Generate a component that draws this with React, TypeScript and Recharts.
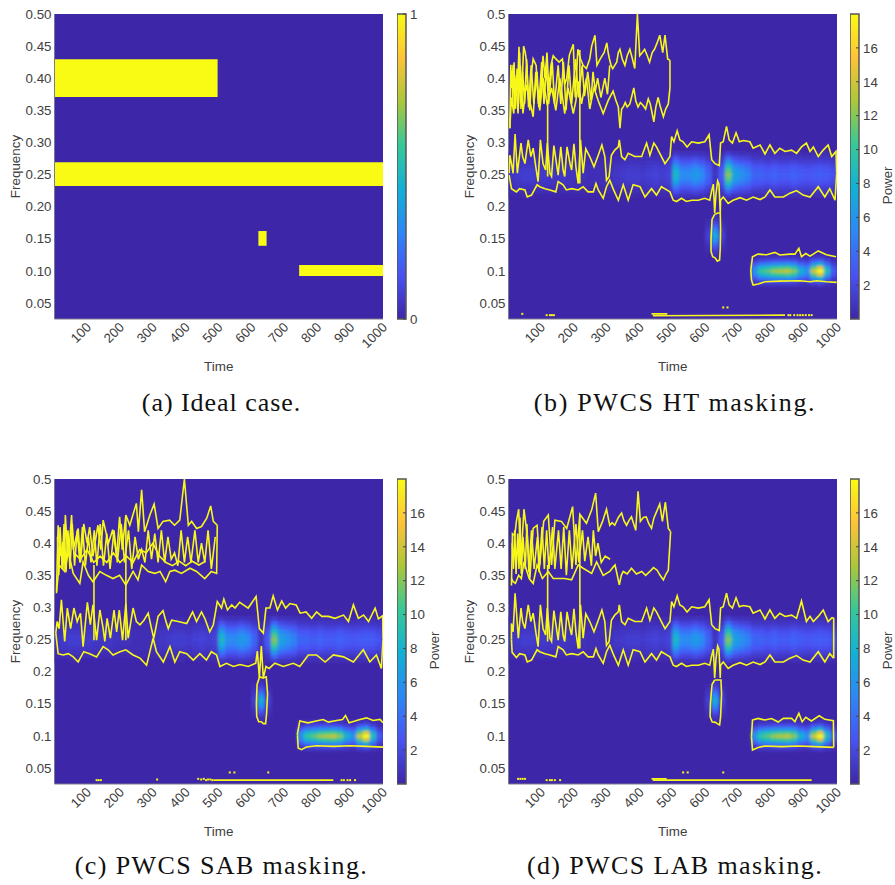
import { ScatterChart, Scatter, XAxis, YAxis, ReferenceArea, BarChart, Bar } from 'recharts';

type Pair = number[];

const timeTicks = [100, 200, 300, 400, 500, 600, 700, 800, 900, 1000];
const freqTicks = [0.05, 0.1, 0.15, 0.2, 0.25, 0.3, 0.35, 0.4, 0.45, 0.5];
const powerTicks = [2, 4, 6, 8, 10, 12, 14, 16];
const idealTicks = [0, 1];

// ideal case: t1, t2, f1, f2
const idealBlocks = [
  [1, 497, 0.3707, 0.4294],
  [1, 1000, 0.232, 0.269],
  [621, 646, 0.139, 0.162],
  [745, 1000, 0.092, 0.109],
];

// power around f = 0.25, one row per frequency, columns t = 10, 30 ... 990
const bandTimes = [10, 30, 50, 70, 90, 110, 130, 150, 170, 190, 210, 230, 250, 270, 290, 310, 330, 350, 370, 390, 410, 430, 450, 470, 490, 510, 530, 550, 570, 590, 610, 630, 650, 670, 690, 710, 730, 750, 770, 790, 810, 830, 850, 870, 890, 910, 930, 950, 970, 990];
const band250 = [0.9, 1.2, 1.4, 1.4, 1.2, 1.2, 1, 1, 1, 0.8, 0.7, 0.7, 0.5, 0.5, 0.5, 0.8, 1, 1.2, 1.4, 1.4, 1.2, 1.5, 1.7, 1.4, 1.7, 8.5, 5.5, 5.5, 6.5, 5.5, 3.5, 0.8, 3, 12, 7, 6, 5, 3.5, 3.5, 3, 3.5, 3, 3, 3.5, 3, 2.8, 3, 3.2, 3, 2.5];
const band245 = [0.8, 1.1, 1.3, 1.3, 1.1, 1.1, 0.9, 0.9, 0.9, 0.7, 0.6, 0.6, 0.5, 0.5, 0.5, 0.7, 0.9, 1.1, 1.3, 1.3, 1.1, 1.4, 1.6, 1.3, 1.6, 7.8, 5.1, 5.1, 6, 5.1, 3.2, 0.7, 2.8, 11, 6.4, 5.5, 4.6, 3.2, 3.2, 2.8, 3.2, 2.8, 2.8, 3.2, 2.8, 2.6, 2.8, 2.9, 2.8, 2.3];
const band240 = [0.7, 0.9, 1, 1, 0.9, 0.9, 0.8, 0.8, 0.8, 0.6, 0.5, 0.5, 0.4, 0.4, 0.4, 0.6, 0.8, 0.9, 1, 1, 0.9, 1.1, 1.3, 1, 1.3, 6.4, 4.1, 4.1, 4.9, 4.1, 2.6, 0.6, 2.3, 9, 5.3, 4.5, 3.8, 2.6, 2.6, 2.3, 2.6, 2.3, 2.3, 2.6, 2.3, 2.1, 2.3, 2.4, 2.3, 1.9];
const band235 = [0.5, 0.6, 0.7, 0.7, 0.6, 0.6, 0.5, 0.5, 0.5, 0.4, 0.4, 0.4, 0.3, 0.3, 0.3, 0.4, 0.5, 0.6, 0.7, 0.7, 0.6, 0.8, 0.9, 0.7, 0.9, 4.4, 2.9, 2.9, 3.4, 2.9, 1.8, 0.4, 1.6, 6.2, 3.6, 3.1, 2.6, 1.8, 1.8, 1.6, 1.8, 1.6, 1.6, 1.8, 1.6, 1.5, 1.6, 1.7, 1.6, 1.3];
const band230 = [0.3, 0.4, 0.4, 0.4, 0.4, 0.4, 0.3, 0.3, 0.3, 0.2, 0.2, 0.2, 0.2, 0.2, 0.2, 0.2, 0.3, 0.4, 0.4, 0.4, 0.4, 0.5, 0.5, 0.4, 0.5, 2.6, 1.7, 1.7, 2, 1.7, 1, 0.2, 0.9, 3.6, 2.1, 1.8, 1.5, 1, 1, 0.9, 1, 0.9, 0.9, 1, 0.9, 0.8, 0.9, 1, 0.9, 0.8];
const band225 = [0.1, 0.1, 0.2, 0.2, 0.1, 0.1, 0.1, 0.1, 0.1, 0.1, 0.1, 0.1, 0.1, 0.1, 0.1, 0.1, 0.1, 0.1, 0.2, 0.2, 0.1, 0.2, 0.2, 0.2, 0.2, 1, 0.7, 0.7, 0.8, 0.7, 0.4, 0.1, 0.4, 1.4, 0.8, 0.7, 0.6, 0.4, 0.4, 0.4, 0.4, 0.4, 0.4, 0.4, 0.4, 0.3, 0.4, 0.4, 0.4, 0.3];
const bandFreqs = [0.2175, 0.224, 0.2305, 0.237, 0.2435, 0.25, 0.2565, 0.263, 0.2695, 0.276, 0.2825];
const bandRows = [band225, band230, band235, band240, band245, band250, band245, band240, band235, band230, band225];

// power around f = 0.1
const lowTimes = [750, 770, 790, 810, 830, 850, 870, 890, 910, 930, 950, 970, 990];
const low100 = [6, 10, 11, 12.5, 13, 13.5, 12, 8, 6, 14, 18, 9, 3];
const low095 = [4.8, 8, 8.8, 10, 10.4, 10.8, 9.6, 6.4, 4.8, 11, 14.4, 7.2, 2.4];
const low090 = [2.7, 4.5, 5, 5.6, 5.9, 6.1, 5.4, 3.6, 2.7, 6.2, 8.1, 4, 1.4];
const low085 = [1.1, 1.8, 2, 2.3, 2.3, 2.4, 2.2, 1.4, 1.1, 2.5, 3.2, 1.6, 0.5];
const low080 = [0.3, 0.5, 0.6, 0.6, 0.7, 0.7, 0.6, 0.4, 0.3, 0.7, 0.9, 0.5, 0.2];
const lowFreqs = [0.078, 0.0835, 0.089, 0.0945, 0.1, 0.1055, 0.111, 0.1165, 0.122];
const lowRows = [low080, low085, low090, low095, low100, low095, low090, low085, low080];

// short pulse near f = 0.15
const pulseTimes = [610, 630, 650];
const pulseFreqs = [0.125, 0.13, 0.135, 0.14, 0.145, 0.15, 0.155, 0.16, 0.165, 0.17, 0.175, 0.18, 0.185];
const pulseRows = [[0.1, 0.5, 0.1], [0.2, 1, 0.2], [0.4, 2, 0.4], [0.7, 3.5, 0.7], [1, 5, 1], [1.3, 6.5, 1.3], [1.5, 7.5, 1.5], [1.3, 6.5, 1.3], [1, 5, 1], [0.7, 3.5, 0.7], [0.4, 2, 0.4], [0.2, 1, 0.2], [0.1, 0.5, 0.1]];

// HT contours [t, f]
const htBandUpper: Pair[] = [[3,.252],[5,.28],[10,.267],[15,.252],[21,.313],[28,.252],[39,.299],[44,.278],[51,.267],[61,.304],[69,.278],[76,.291],[84,.262],[91,.239],[98,.304],[106,.267],[114,.257],[119,.299],[127,.252],[132,.247],[139,.295],[147,.267],[152,.249],[160,.293],[167,.257],[172,.247],[179,.293],[188,.267],[193,.257],[200,.298],[206,.262],[213,.236],[220,.304],[228,.252],[236,.29],[248,.278],[261,.262],[274,.28],[285,.296],[294,.278],[299,.241],[307,.247],[314,.28],[324,.288],[335,.293],[338,.304],[345,.278],[355,.273],[365,.283],[385,.278],[406,.278],[421,.299],[431,.28],[443,.299],[451,.293],[461,.283],[477,.267],[492,.278],[497,.309],[504,.301],[514,.318],[522,.304],[532,.301],[544,.293],[558,.301],[578,.299],[598,.301],[611,.312],[619,.273],[629,.267],[642,.264],[646,.299],[654,.301],[664,.325],[672,.304],[682,.299],[693,.315],[703,.301],[715,.303],[735,.301],[745,.291],[766,.296],[781,.282],[796,.296],[811,.283],[826,.291],[842,.286],[862,.288],[877,.283],[892,.293],[907,.299],[918,.286],[928,.293],[943,.278],[958,.288],[973,.296],[984,.278],[997,.286],[999,.252]];
const htBandLower: Pair[] = [[3,.249],[10,.228],[25,.223],[35,.228],[51,.226],[58,.215],[71,.218],[88,.234],[96,.231],[112,.228],[127,.226],[145,.223],[152,.239],[167,.234],[177,.226],[193,.228],[213,.226],[228,.231],[243,.223],[259,.223],[267,.236],[274,.226],[289,.213],[299,.231],[309,.241],[319,.228],[335,.21],[350,.234],[365,.21],[380,.234],[401,.231],[416,.215],[436,.228],[451,.218],[466,.231],[482,.226],[492,.223],[502,.21],[512,.208],[527,.213],[542,.208],[558,.21],[578,.21],[598,.213],[613,.21],[619,.225],[624,.235],[628,.19],[632,.22],[637,.24],[641,.235],[645,.19],[646,.21],[654,.215],[669,.205],[684,.21],[705,.214],[725,.21],[745,.215],[766,.211],[781,.215],[796,.226],[811,.215],[837,.215],[857,.221],[877,.225],[897,.218],[918,.215],[943,.231],[963,.215],[978,.228],[994,.21],[999,.252]];
const htTopUpper: Pair[] = [[5,.322],[8,.421],[11,.385],[15,.421],[20,.37],[25,.405],[29,.39],[33,.449],[37,.38],[41,.37],[47,.45],[52,.44],[57,.42],[61,.37],[66,.35],[71,.41],[76,.43],[85,.42],[92,.36],[98,.37],[106,.435],[112,.4],[118,.44],[124,.38],[130,.42],[137,.435],[145,.43],[155,.425],[165,.43],[172,.39],[178,.4],[186,.436],[198,.453],[204,.37],[212,.445],[220,.43],[228,.42],[238,.415],[248,.43],[254,.45],[264,.467],[270,.42],[280,.43],[292,.44],[300,.455],[304,.44],[308,.43],[313,.42],[318,.415],[324,.42],[330,.425],[335,.44],[340,.445],[347,.43],[355,.42],[362,.435],[370,.445],[378,.43],[385,.415],[393,.5],[400,.435],[408,.44],[415,.445],[423,.435],[430,.425],[438,.44],[445,.445],[453,.455],[461,.467],[470,.44],[477,.467],[485,.43],[492,.428]];
const htTopLower: Pair[] = [[5,.322],[10,.37],[17,.345],[23,.4],[30,.345],[37,.42],[45,.345],[55,.39],[76,.34],[84,.41],[96,.35],[106,.4],[119,.358],[132,.385],[145,.35],[157,.4],[172,.345],[182,.385],[198,.345],[206,.365],[213,.395],[223,.36],[238,.4],[248,.352],[261,.385],[274,.365],[289,.345],[304,.365],[319,.38],[328,.365],[335,.355],[340,.322],[345,.352],[350,.355],[356,.362],[362,.355],[370,.36],[376,.372],[382,.385],[388,.365],[395,.355],[402,.362],[410,.358],[418,.352],[426,.368],[432,.36],[438,.345],[443,.332],[449,.355],[456,.37],[463,.355],[472,.34],[479,.352],[487,.36],[492,.385],[492,.428]];
const htTopInner: Pair[] = [[12,.41],[14,.36],[18,.425],[22,.352],[27,.415],[31,.36],[35,.44],[39,.352],[44,.41],[50,.36],[56,.43],[62,.355],[70,.42],[78,.36],[88,.41],[93,.355],[102,.425],[109,.36],[116,.42],[123,.36],[134,.425],[141,.36],[152,.42],[160,.36],[168,.425],[176,.35],[185,.42],[193,.36],[205,.43],[214,.37],[225,.42],[232,.372],[242,.41],[252,.365],[258,.41],[265,.38],[272,.4],[282,.37],[294,.4],[302,.375],[309,.42]];
const htSpikeA: Pair[] = [[120,.366],[120,.247]];
const htSpikeB: Pair[] = [[218,.444],[218,.236]];
const htPulse: Pair[] = [[628,.188],[620,.18],[617,.15],[617,.13],[622,.122],[630,.12],[636,.115],[643,.117],[645,.135],[646,.165],[645,.19],[638,.19],[628,.188]];
const htLowUpper: Pair[] = [[740,.0857],[738,.1013],[743,.122],[760,.126],[786,.125],[811,.1287],[826,.1246],[857,.126],[872,.126],[884,.135],[892,.122],[905,.127],[918,.123],[943,.131],[968,.125],[997,.122]];
const htLowLower: Pair[] = [[740,.0857],[745,.0779],[760,.0795],[781,.083],[826,.084],[887,.0846],[918,.083],[938,.0846],[968,.083],[999,.082]];
const htFloorA: Pair[] = [[436,.033],[484,.033]];
const htFloorB: Pair[] = [[440,.03],[842,.031]];
const htDots: Pair[] = [[43,.033],[117,.031],[127,.031],[133,.031],[139,.031],[654,.043],[667,.043],[852,.031],[858,.031],[870,.031],[880,.031],[888,.031],[896,.031],[905,.031],[915,.031],[923,.031]];

// SAB contours [t, f]
const sabBandUpper: Pair[] = [[5,.26],[9,.278],[15,.267],[22,.312],[32,.247],[40,.299],[50,.267],[60,.299],[70,.278],[80,.291],[88,.239],[101,.308],[110,.273],[118,.304],[129,.249],[139,.296],[149,.267],[154,.247],[161,.283],[171,.252],[182,.296],[190,.262],[198,.296],[208,.249],[218,.306],[225,.252],[240,.299],[250,.278],[261,.273],[273,.28],[286,.291],[296,.267],[303,.252],[316,.286],[331,.295],[340,.278],[347,.267],[357,.28],[377,.278],[403,.275],[421,.293],[433,.278],[448,.293],[458,.283],[473,.262],[484,.273],[496,.309],[509,.299],[516,.313],[527,.296],[540,.304],[550,.299],[564,.308],[590,.299],[614,.317],[624,.267],[636,.26],[644,.299],[656,.299],[666,.318],[679,.296],[692,.31],[704,.299],[717,.306],[736,.304],[748,.291],[766,.293],[783,.283],[798,.293],[814,.286],[834,.286],[854,.283],[880,.288],[895,.278],[910,.304],[925,.283],[941,.288],[956,.278],[976,.299],[986,.282],[999,.287],[1000,.25]];
const sabBandLower: Pair[] = [[5,.26],[12,.228],[27,.226],[43,.228],[58,.223],[73,.215],[90,.231],[108,.228],[129,.223],[149,.239],[164,.234],[179,.226],[200,.231],[218,.234],[240,.226],[261,.221],[281,.21],[301,.252],[311,.231],[332,.215],[352,.239],[367,.215],[382,.231],[403,.228],[423,.218],[443,.228],[463,.218],[478,.231],[494,.226],[504,.208],[524,.213],[545,.208],[565,.211],[590,.208],[613,.213],[618,.232],[624,.19],[630,.24],[636,.19],[644,.208],[654,.205],[671,.213],[697,.208],[727,.213],[747,.208],[773,.226],[798,.226],[824,.215],[849,.226],[880,.223],[910,.215],[940,.234],[960,.215],[980,.226],[995,.205],[1000,.25]];
const sabTopUpper: Pair[] = [[7,.325],[12,.428],[20,.38],[27,.402],[30,.36],[34,.444],[41,.38],[45,.387],[53,.444],[58,.39],[73,.423],[80,.37],[90,.43],[100,.4],[108,.425],[118,.38],[133,.428],[142,.39],[149,.436],[165,.4],[178,.421],[190,.38],[199,.441],[207,.39],[218,.444],[230,.428],[250,.462],[256,.418],[266,.483],[275,.418],[291,.444],[304,.461],[316,.423],[331,.434],[351,.436],[366,.428],[382,.436],[396,.5],[408,.428],[418,.434],[433,.423],[448,.426],[464,.439],[476,.458],[484,.434],[496,.428]];
const sabTopLower: Pair[] = [[7,.322],[15,.366],[32,.356],[43,.387],[58,.353],[78,.3375],[88,.371],[104,.35],[118,.34],[139,.356],[159,.35],[179,.345],[199,.35],[218,.335],[240,.356],[255,.343],[266,.366],[286,.356],[306,.353],[322,.356],[339,.34],[352,.356],[367,.358],[387,.353],[413,.361],[433,.356],[458,.345],[478,.356],[494,.353],[496,.428]];
const sabTopInner: Pair[] = [[10,.41],[14,.35],[18,.425],[24,.36],[30,.43],[36,.355],[42,.42],[48,.36],[55,.43],[62,.365],[70,.42],[78,.37],[86,.425],[95,.365],[104,.41],[112,.37],[122,.42],[130,.365],[140,.43],[150,.365],[160,.415],[170,.36],[182,.42],[192,.37],[204,.43],[214,.37],[226,.42],[236,.36],[246,.41],[256,.375],[266,.39],[276,.37],[286,.42],[296,.375],[306,.415],[316,.37],[326,.42],[336,.37],[346,.41],[356,.375],[366,.385],[376,.365],[386,.42],[396,.37],[406,.41],[416,.37],[428,.42],[438,.37],[448,.4],[458,.37],[468,.42],[478,.36],[490,.41]];
const sabTopCore: Pair[] = [[60,.385],[80,.375],[100,.39],[120,.37],[140,.38],[160,.37],[180,.385],[200,.37],[220,.38],[240,.37],[260,.39],[280,.385],[300,.4],[320,.38],[340,.37],[360,.365],[380,.372],[400,.365],[420,.372],[440,.366],[460,.372]];
const sabSpikeA: Pair[] = [[121,.366],[121,.249]];
const sabSpikeB: Pair[] = [[218,.444],[218,.249]];
const sabPulse: Pair[] = [[625,.192],[617,.18],[615,.15],[616,.13],[622,.122],[630,.122],[636,.119],[643,.119],[646,.135],[649,.165],[645,.192],[635,.19],[625,.192]];
const sabLowUpper: Pair[] = [[740,.1],[740,.104],[747,.123],[772,.1203],[793,.1228],[818,.1255],[834,.1214],[859,.124],[877,.1255],[886,.1317],[897,.1203],[915,.123],[930,.1255],[950,.128],[970,.124],[991,.1255],[1000,.1203]];
const sabLowLower: Pair[] = [[740,.1],[742,.081],[752,.0785],[767,.0825],[798,.0846],[849,.0836],[899,.0846],[950,.0836],[1000,.0825]];
const sabFloorA: Pair[] = [[484,.031],[849,.031]];
const sabDots: Pair[] = [[129,.031],[135,.031],[142,.031],[313,.032],[438,.033],[447,.032],[455,.033],[462,.031],[468,.032],[475,.032],[481,.031],[534,.043],[548,.043],[651,.043],[874,.031],[881,.031],[892,.031],[900,.031],[915,.031]];

// LAB contours [t, f]
const labBandUpper: Pair[] = [[10,.25],[10,.275],[15,.262],[21,.322],[31,.252],[39,.299],[44,.278],[51,.267],[61,.304],[69,.278],[76,.291],[84,.262],[91,.239],[98,.304],[106,.267],[114,.257],[119,.299],[127,.252],[132,.247],[139,.295],[147,.267],[152,.249],[160,.293],[167,.257],[172,.247],[179,.293],[188,.267],[193,.257],[200,.298],[206,.262],[213,.236],[220,.304],[228,.252],[236,.29],[248,.278],[261,.262],[274,.28],[285,.296],[294,.278],[299,.241],[307,.247],[314,.28],[324,.288],[335,.293],[338,.304],[345,.278],[355,.273],[365,.283],[385,.278],[406,.278],[421,.299],[431,.28],[443,.299],[451,.293],[461,.283],[477,.267],[492,.278],[497,.309],[504,.301],[514,.318],[522,.304],[532,.301],[544,.293],[558,.301],[578,.299],[598,.301],[611,.312],[619,.273],[629,.267],[642,.264],[646,.299],[654,.301],[664,.322],[672,.304],[682,.299],[693,.315],[703,.301],[715,.303],[735,.301],[745,.291],[766,.296],[781,.282],[796,.296],[811,.283],[826,.291],[842,.286],[862,.288],[877,.283],[892,.31],[907,.278],[918,.286],[928,.278],[943,.286],[958,.296],[973,.278],[985,.284],[990,.283],[990,.221]];
const labBandLower: Pair[] = [[10,.25],[12,.23],[25,.222],[35,.228],[51,.226],[58,.215],[71,.218],[88,.234],[96,.231],[112,.228],[127,.226],[145,.223],[152,.239],[167,.234],[177,.226],[193,.228],[213,.226],[228,.231],[243,.223],[259,.223],[267,.236],[274,.226],[289,.213],[299,.231],[309,.241],[319,.228],[335,.21],[350,.234],[365,.21],[380,.234],[401,.231],[416,.215],[436,.228],[451,.218],[466,.231],[482,.226],[492,.223],[502,.21],[512,.208],[527,.213],[542,.208],[558,.21],[578,.21],[598,.213],[613,.21],[619,.225],[624,.235],[628,.19],[632,.22],[637,.24],[641,.235],[645,.19],[646,.21],[654,.215],[669,.205],[684,.21],[705,.214],[725,.21],[745,.215],[766,.211],[781,.215],[796,.226],[811,.215],[837,.215],[857,.221],[877,.225],[897,.218],[918,.215],[943,.231],[963,.215],[978,.228],[990,.221]];
const labTopUpper: Pair[] = [[10,.334],[13,.415],[20,.412],[25,.434],[32,.453],[38,.366],[48,.453],[58,.412],[66,.345],[76,.423],[88,.428],[96,.366],[108,.434],[122,.444],[132,.366],[142,.436],[162,.434],[178,.423],[196,.457],[206,.366],[218,.445],[238,.431],[254,.452],[266,.478],[274,.418],[287,.434],[299,.453],[304,.44],[309,.428],[316,.432],[324,.428],[335,.44],[345,.447],[352,.435],[360,.428],[368,.436],[375,.441],[388,.42],[395,.481],[402,.434],[411,.44],[420,.441],[428,.43],[436,.423],[443,.439],[452,.45],[461,.461],[469,.434],[478,.464],[487,.423],[494,.418]];
const labTopLower: Pair[] = [[10,.345],[15,.34],[22,.3375],[32,.35],[40,.345],[48,.371],[64,.345],[76,.3375],[88,.366],[104,.345],[122,.356],[137,.345],[157,.345],[172,.345],[193,.343],[213,.366],[228,.361],[254,.353],[269,.371],[289,.35],[309,.356],[318,.362],[325,.366],[331,.352],[338,.335],[344,.35],[350,.356],[362,.352],[375,.361],[390,.352],[406,.356],[418,.35],[431,.356],[442,.362],[453,.358],[462,.35],[472,.343],[480,.352],[487,.358],[494,.418]];
const labTopInner: Pair[] = [[12,.4],[16,.36],[20,.42],[24,.352],[29,.415],[33,.36],[36,.44],[40,.352],[45,.41],[52,.36],[57,.43],[63,.355],[71,.42],[79,.36],[89,.41],[94,.355],[103,.425],[110,.36],[117,.42],[124,.36],[135,.425],[142,.36],[153,.42],[161,.36],[169,.425],[177,.35],[186,.42],[194,.36],[206,.43],[215,.37],[226,.42],[233,.372],[243,.41],[253,.365],[259,.42],[266,.38],[273,.4],[283,.37],[295,.38],[310,.375]];
const labSpikeA: Pair[] = [[120,.366],[120,.247]];
const labSpikeB: Pair[] = [[218,.444],[218,.236]];
const labPulse: Pair[] = [[628,.187],[620,.18],[615,.15],[614,.13],[620,.122],[630,.121],[636,.119],[643,.117],[646,.13],[649,.165],[647,.187],[638,.187],[628,.187]];
const labLowUpper: Pair[] = [[740,.0986],[743,.1246],[760,.1272],[781,.1246],[801,.127],[821,.1215],[837,.1272],[862,.1272],[872,.122],[884,.135],[894,.122],[905,.1288],[922,.1231],[946,.1313],[963,.1257],[989,.1236],[990,.082]];
const labLowLower: Pair[] = [[740,.0986],[743,.078],[760,.082],[781,.0842],[832,.0832],[882,.0842],[933,.0832],[990,.082]];
const labFloorA: Pair[] = [[436,.033],[482,.033]];
const labFloorB: Pair[] = [[440,.031],[923,.031]];
const labDots: Pair[] = [[30,.033],[37,.033],[44,.033],[51,.033],[117,.031],[127,.031],[133,.031],[142,.031],[158,.031],[532,.043],[546,.043],[654,.043]];

const parulaStops = ['#3e26a8', '#4852f4', '#2d87f7', '#11b1d6', '#37c897', '#abc739', '#fec338', '#f9fb15'];
const YELLOW = '#f7f71a';
const BG = '#3e26a8';
const PLOT_W = 328.5;
const PLOT_H = 305;
const TEXT = '#404040';
const FONT = '"Liberation Sans", Arial, sans-serif';

function hexRgb(h: string) {
  return [1, 3, 5].map((i) => parseInt(h.slice(i, i + 2), 16));
}

function parula(x: number) {
  const v = Math.max(0, Math.min(0.9999, x)) * (parulaStops.length - 1);
  const i = Math.floor(v);
  const a = hexRgb(parulaStops[i]);
  const b = hexRgb(parulaStops[i + 1]);
  const c = a.map((n, k) => Math.round(n + (b[k] - n) * (v - i)));
  return `rgb(${c[0]},${c[1]},${c[2]})`;
}

function cells(times: number[], freqs: number[], rows: number[][], dt: number, df: number) {
  return freqs.flatMap((f, r) => times.map((t, c) => ({ t, f, p: rows[r][c], dt, df })));
}

const heatCells = [
  ...cells(bandTimes, bandFreqs, bandRows, 20, 0.0065),
  ...cells(lowTimes, lowFreqs, lowRows, 20, 0.0055),
  ...cells(pulseTimes, pulseFreqs, pulseRows, 20, 0.005),
];

function toPoints(pairs: Pair[]) {
  return pairs.map(([t, f]) => ({ t, f }));
}

function HeatCell(props: any) {
  const { cx, cy, payload } = props;
  const w = (payload.dt * PLOT_W) / 999 + 0.6;
  const h = (payload.df * PLOT_H) / 0.475 + 0.6;
  return <rect x={cx - w / 2} y={cy - h / 2} width={w} height={h} fill={parula(payload.p / 18)} />;
}

function NoPoint() {
  return null;
}

function Dot(props: any) {
  return <rect x={props.cx - 1} y={props.cy - 1} width={2} height={2} fill={YELLOW} />;
}

function TimeTick(props: any) {
  const { x, y, payload } = props;
  return (
    <text x={x + 5} y={y + 9} textAnchor="end" fontSize={13.3} fontFamily={FONT} fill={TEXT} transform={`rotate(-45 ${x + 5} ${y + 9})`}>
      {payload.value}
    </text>
  );
}

function BarTick(props: any) {
  const { x, y, payload } = props;
  return (
    <g>
      <line x1={x - 3} x2={x} y1={y} y2={y} stroke="#444" strokeWidth={1} />
      <text x={x + 4} y={y} dy="0.36em" fontSize={13.3} fontFamily={FONT} fill={TEXT}>
        {payload.value}
      </text>
    </g>
  );
}

function ColorBar({ left, top, ticks, max, label }: { left: number; top: number; ticks: number[]; max: number; label?: string }) {
  const id = `grad-${left}-${top}`;
  return (
    <div style={{ position: 'absolute', left, top }}>
      <BarChart width={45} height={395} data={[{ name: 'c', v: max }]} margin={{ top: 14, right: 0, bottom: 76, left: 0 }} barCategoryGap={0}>
        <defs>
          <linearGradient id={id} x1="0" y1="1" x2="0" y2="0">
            {parulaStops.map((c, i) => (
              <stop key={i} offset={i / (parulaStops.length - 1)} stopColor={c} />
            ))}
          </linearGradient>
        </defs>
        <XAxis dataKey="name" hide />
        <YAxis
          orientation="right"
          width={36}
          domain={[0, max]}
          ticks={ticks}
          interval={0}
          axisLine={false}
          tickLine={false}
          tickSize={0}
          tickMargin={0}
          tick={BarTick}
          label={label ? { value: label, angle: -90, position: 'insideRight', dx: -3, fontSize: 13.3, fontFamily: FONT, fill: TEXT } : undefined}
        />
        <Bar dataKey="v" fill={`url(#${id})`} stroke="#555" strokeWidth={1.5} isAnimationActive={false} />
      </BarChart>
    </div>
  );
}

function Panel({ left, top, fixed, blocks, lines, dots }: { left: number; top: number; fixed?: boolean; blocks?: number[][]; lines?: Pair[][]; dots?: Pair[] }) {
  const filterId = `blur-${left}-${top}`;
  return (
    <div style={{ position: 'absolute', left, top }}>
      <ScatterChart width={440} height={395} margin={{ top: 14, right: 57, bottom: 16, left: 0 }}>
        <defs>
          <filter id={filterId} filterUnits="userSpaceOnUse" x={54.5} y={14} width={PLOT_W} height={PLOT_H}>
            <feGaussianBlur stdDeviation="1.7 1.3" />
          </filter>
        </defs>
        <XAxis
          type="number"
          dataKey="t"
          domain={[1, 1000]}
          ticks={timeTicks}
          interval={0}
          height={60}
          axisLine={{ stroke: '#7a7a8a' }}
          tickLine={false}
          tickMargin={0}
          tickSize={0}
          tick={TimeTick}
          allowDataOverflow
          label={{ value: 'Time', position: 'insideBottom', offset: 8, fontSize: 13.4, fontFamily: FONT, fill: TEXT }}
        />
        <YAxis
          type="number"
          dataKey="f"
          domain={[0.025, 0.5]}
          ticks={freqTicks}
          interval={0}
          width={54.5}
          axisLine={{ stroke: '#7a7a8a' }}
          tickLine={false}
          tickSize={0}
          tickMargin={3}
          allowDataOverflow
          tickFormatter={(v: number) => (fixed ? v.toFixed(2) : String(v))}
          tick={{ fontSize: 13.3, fontFamily: FONT, fill: TEXT }}
          label={{ value: 'Frequency', angle: -90, position: 'insideLeft', offset: 15, fontSize: 13.4, fontFamily: FONT, fill: TEXT, style: { textAnchor: 'middle' } }}
        />
        <ReferenceArea x1={1} x2={1000} y1={0.025} y2={0.5} fill={BG} fillOpacity={1} stroke="none" />
        {(blocks || []).map((b, i) => (
          <ReferenceArea key={i} x1={b[0]} x2={b[1]} y1={b[2]} y2={b[3]} fill="#f9fb15" fillOpacity={1} stroke="none" />
        ))}
        {lines && (
          <Scatter className={`heat-${left}-${top}`} data={heatCells} shape={HeatCell} isAnimationActive={false} />
        )}
        {(lines || []).map((l, i) => (
          <Scatter key={i} data={toPoints(l)} line={{ stroke: YELLOW, strokeWidth: 1.6 }} shape={NoPoint} isAnimationActive={false} />
        ))}
        {dots && <Scatter data={toPoints(dots)} shape={Dot} isAnimationActive={false} />}
      </ScatterChart>
    </div>
  );
}

const captionStyle = (center: number, baseline: number, spacing: number) =>
  ({
    position: 'absolute',
    left: center - 220,
    width: 440,
    top: baseline - 21,
    textAlign: 'center',
    fontFamily: '"Liberation Serif", serif',
    fontSize: 26,
    lineHeight: '27px',
    letterSpacing: spacing,
    color: '#111',
    whiteSpace: 'nowrap',
  }) as const;

const htLines = [htBandUpper, htBandLower, htTopUpper, htTopLower, htTopInner, htSpikeA, htSpikeB, htPulse, htLowUpper, htLowLower, htFloorA, htFloorB];
const sabLines = [sabBandUpper, sabBandLower, sabTopUpper, sabTopLower, sabTopInner, sabTopCore, sabSpikeA, sabSpikeB, sabPulse, sabLowUpper, sabLowLower, sabFloorA];
const labLines = [labBandUpper, labBandLower, labTopUpper, labTopLower, labTopInner, labSpikeA, labSpikeB, labPulse, labLowUpper, labLowLower, labFloorA, labFloorB];

export default function App() {
  const css = [[454, 0], [0, 465], [454, 465]]
    .map(([l, t]) => `.heat-${l}-${t}{filter:url(#blur-${l}-${t});}`)
    .join('');
  return (
    <div style={{ position: 'absolute', left: 0, top: 0, width: 895, height: 885, background: '#fff', overflow: 'hidden' }}>
      <style>{css}</style>
      <Panel left={0} top={0} fixed blocks={idealBlocks} />
      <ColorBar left={397} top={0} ticks={idealTicks} max={1} />
      <Panel left={454} top={0} lines={htLines} dots={htDots} />
      <ColorBar left={850} top={0} ticks={powerTicks} max={18} label="Power" />
      <Panel left={0} top={465} lines={sabLines} dots={sabDots} />
      <ColorBar left={397} top={465} ticks={powerTicks} max={18} label="Power" />
      <Panel left={454} top={465} lines={labLines} dots={labDots} />
      <ColorBar left={850} top={465} ticks={powerTicks} max={18} label="Power" />
      <div style={captionStyle(221.5, 410, 0.95)}>(a) Ideal case.</div>
      <div style={captionStyle(675, 410, 1.65)}>(b) PWCS HT masking.</div>
      <div style={captionStyle(221.5, 873, 1.38)}>(c) PWCS SAB masking.</div>
      <div style={captionStyle(675, 873, 1.38)}>(d) PWCS LAB masking.</div>
    </div>
  );
}
